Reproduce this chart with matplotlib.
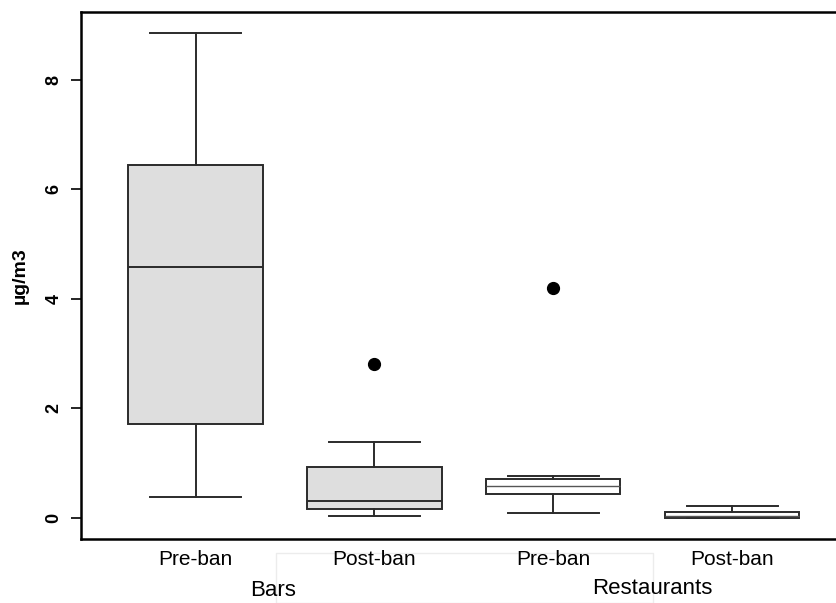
import matplotlib
matplotlib.use("Agg")
import matplotlib.pyplot as plt
from matplotlib.patches import Rectangle

plt.rcParams['font.family'] = ['Liberation Sans', 'DejaVu Sans']

# box plot summaries (ug/m3)
labels = ["Pre-ban", "Post-ban", "Pre-ban", "Post-ban"]
groups = ["Bars", "Restaurants"]
whislo = [0.37, 0.04, 0.09, 0.00]
q1 = [1.72, 0.16, 0.43, 0.00]
med = [4.58, 0.30, 0.58, 0.03]
q3 = [6.44, 0.93, 0.70, 0.10]
whishi = [8.86, 1.38, 0.77, 0.22]
fliers = [[], [2.81], [4.19], []]
fills = ["#dedede", "#dedede", "white", "white"]

stats = []
for i in range(len(labels)):
    stats.append(dict(label=labels[i], whislo=whislo[i], q1=q1[i], med=med[i],
                      q3=q3[i], whishi=whishi[i], fliers=fliers[i]))

fig = plt.figure(figsize=(8.36, 6.03), dpi=100)
ax = fig.add_axes([0.097, 0.106, 0.903, 0.874])

edge = "#2b2b2b"
bp = ax.bxp(stats, positions=[1, 2, 3, 4], widths=0.75, capwidths=0.51,
            patch_artist=True, showfliers=True,
            boxprops=dict(edgecolor=edge, linewidth=1.4),
            whiskerprops=dict(color=edge, linewidth=1.4),
            capprops=dict(color=edge, linewidth=1.4),
            medianprops=dict(color=edge, linewidth=1.4),
            flierprops=dict(marker='o', markerfacecolor='black',
                            markeredgecolor='black', markersize=8.5))
for patch, c in zip(bp['boxes'], fills):
    patch.set_facecolor(c)
for m in bp['medians'][2:]:
    m.set_color("#555555")
    m.set_linewidth(1.0)

ax.set_xlim(0.36, 4.58)
ax.set_ylim(-0.39, 9.24)
ax.set_yticks([0, 2, 4, 6, 8])
ax.set_yticklabels(["0", "2", "4", "6", "8"], rotation=90, va='center',
                   fontsize=13, fontweight='bold')
ax.tick_params(axis='y', length=7, width=1.2, pad=6.5)
ax.tick_params(axis='x', length=0, pad=8, labelsize=15)
ax.set_xticklabels(labels)
ax.set_ylabel("\u00b5g/m3", fontsize=14, fontweight='bold', labelpad=12)
ax.spines['right'].set_visible(False)
for s in ['left', 'top', 'bottom']:
    ax.spines[s].set_linewidth(1.8)
    ax.spines[s].set_color('black')

fig.text(273 / 836, 1 - 591 / 603, groups[0], ha='center', va='center', fontsize=16)
fig.text(652 / 836, 1 - 589 / 603, groups[1], ha='center', va='center', fontsize=16)
# faint frame behind the labels, as in the scan
frame = Rectangle((276 / 836, 0), 377 / 836, 50 / 603, transform=fig.transFigure,
                  fill=False, edgecolor='#ececec', linewidth=1, zorder=-1)
fig.patches.append(frame)

fig.savefig("out.png", dpi=100)
